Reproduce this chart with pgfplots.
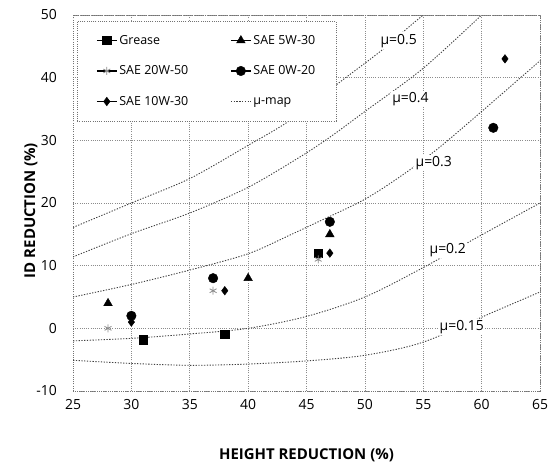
\documentclass[border=0pt]{standalone}
\usepackage{fontspec}
\setmainfont{Open Sans}
\usepackage{pgfplots}
\pgfplotsset{compat=1.18}
\pgfplotsset{
  mucurve/.style={smooth, black!75, line width=0.9pt, dash pattern=on 1.3pt off 1.5pt},
  mulegend/.style={legend image code/.code={\draw[##1] (0bp,0bp) -- (20bp,0bp);}},
  scatleg/.style={legend image code/.code={\draw[solid,black,line width=1.2pt] (0bp,0bp) -- (20bp,0bp); \draw[##1] plot coordinates {(10bp,0bp)};}},
}
\begin{document}
\begin{tikzpicture}
\begin{axis}[
  scale only axis, width=467bp, height=376bp,
  xmin=25, xmax=65, ymin=-10, ymax=50,
  xtick={25,30,...,65}, ytick={-10,0,...,50},
  grid=major,
  grid style={dash pattern=on 1pt off 1.2pt, black!45, line width=0.6pt},
  axis line style={dash pattern=on 1pt off 1.2pt, black!55, line width=0.6pt},
  major tick length=0pt,
  /pgf/number format/assume math mode=true,
  tick label style={font=\fontsize{14}{16}\selectfont},
  xticklabel style={anchor=center, yshift=-14bp},
  yticklabel style={anchor=east, inner sep=0pt, xshift=-16bp},
  xlabel={HEIGHT REDUCTION (\%)}, ylabel={ID REDUCTION (\%)},
  label style={font=\fontsize{15}{17}\selectfont\bfseries},
  xlabel style={at={(axis description cs:0.5,-0.170)}, anchor=center},
  ylabel style={at={(axis description cs:-0.09,0.48)}, anchor=center},
  legend columns=2,
  legend cell align=left,
  legend style={at={(0.0086,0.984)}, anchor=north west, draw=black!55,
    dash pattern=on 1pt off 1.2pt, fill=white, font=\fontsize{12.5}{14}\selectfont,
    inner xsep=19bp, inner ysep=12bp, row sep=16bp,
    /tikz/every even column/.append style={column sep=40bp}},
  scatleg,
]
\coordinate (sw) at (rel axis cs:0,0);
\coordinate (ne) at (rel axis cs:1,1);
% mu-map curves
\addplot[mucurve, forget plot] coordinates {(25,16.1) (30,20) (35,23.9) (40,29.2) (43.6,33.2) (48,39.5) (51.4,44.3) (53.9,48.3) (55,50)};
\addplot[mucurve, forget plot] coordinates {(25,11.4) (30,15.1) (35,18.4) (40,22.5) (44.4,27.3) (47,30.5) (50,34.6) (55,41.5) (60,50)};
\addplot[mucurve, forget plot] coordinates {(25,5) (30,7) (35,9.3) (40,11.9) (43.6,14.9) (46,17) (50,20.6) (53.4,24.7) (56.4,28.9) (60,34.6) (65,42.7)};
\addplot[mucurve, forget plot] coordinates {(25,-2) (30,-1.6) (35,-0.9) (40,0) (45,1.9) (50,5.0) (55,9.7) (59.7,14.6) (65,20)};
\addplot[mucurve, forget plot] coordinates {(25,-5.1) (30,-5.6) (35,-5.9) (40,-5.7) (45,-5.2) (50,-4.3) (55,-2.2) (61,2.6) (65,5.8)};
\begin{scope}[every node/.style={fill=white, inner sep=1.5pt, font=\fontsize{14}{16}\selectfont}]
\node at (axis cs:52.9,45.9) {μ=0.5};
\node at (axis cs:53.9,36.6) {μ=0.4};
\node at (axis cs:55.9,26.4) {μ=0.3};
\node at (axis cs:57.1,12.5) {μ=0.2};
\node at (axis cs:58.3,0.2) {μ=0.15};
\end{scope}
% data series
\addplot[only marks, mark=square*, black, mark size=4.2, mark options={solid}] coordinates {(31,-1.8) (38,-0.9) (46,12)};
\addlegendentry{Grease}
\addplot[only marks, mark=triangle*, black, mark size=5, mark options={solid}] coordinates {(28,4) (40,8) (47,15)};
\addlegendentry{SAE 5W-30}
\addplot[only marks, mark=asterisk, black!45, mark size=4, mark options={solid, line width=0.8pt}] coordinates {(28,0) (37,6) (46,11)};
\addlegendentry{SAE 20W-50}
\addplot[only marks, mark=*, black, mark size=4.8, mark options={solid}] coordinates {(30,2) (37,8) (47,17) (61,32)};
\addlegendentry{SAE 0W-20}
\addplot[only marks, mark=diamond*, black, mark size=4.3, mark options={solid}] coordinates {(30,1) (38,6) (47,12) (62,43)};
\addlegendentry{SAE 10W-30}
\addlegendimage{mucurve, mulegend}
\addlegendentry{μ-map}
\end{axis}
\pgfresetboundingbox
\path ([xshift=-73bp,yshift=-76bp]sw) rectangle ([xshift=10bp,yshift=15bp]ne);
\end{tikzpicture}
\end{document}
